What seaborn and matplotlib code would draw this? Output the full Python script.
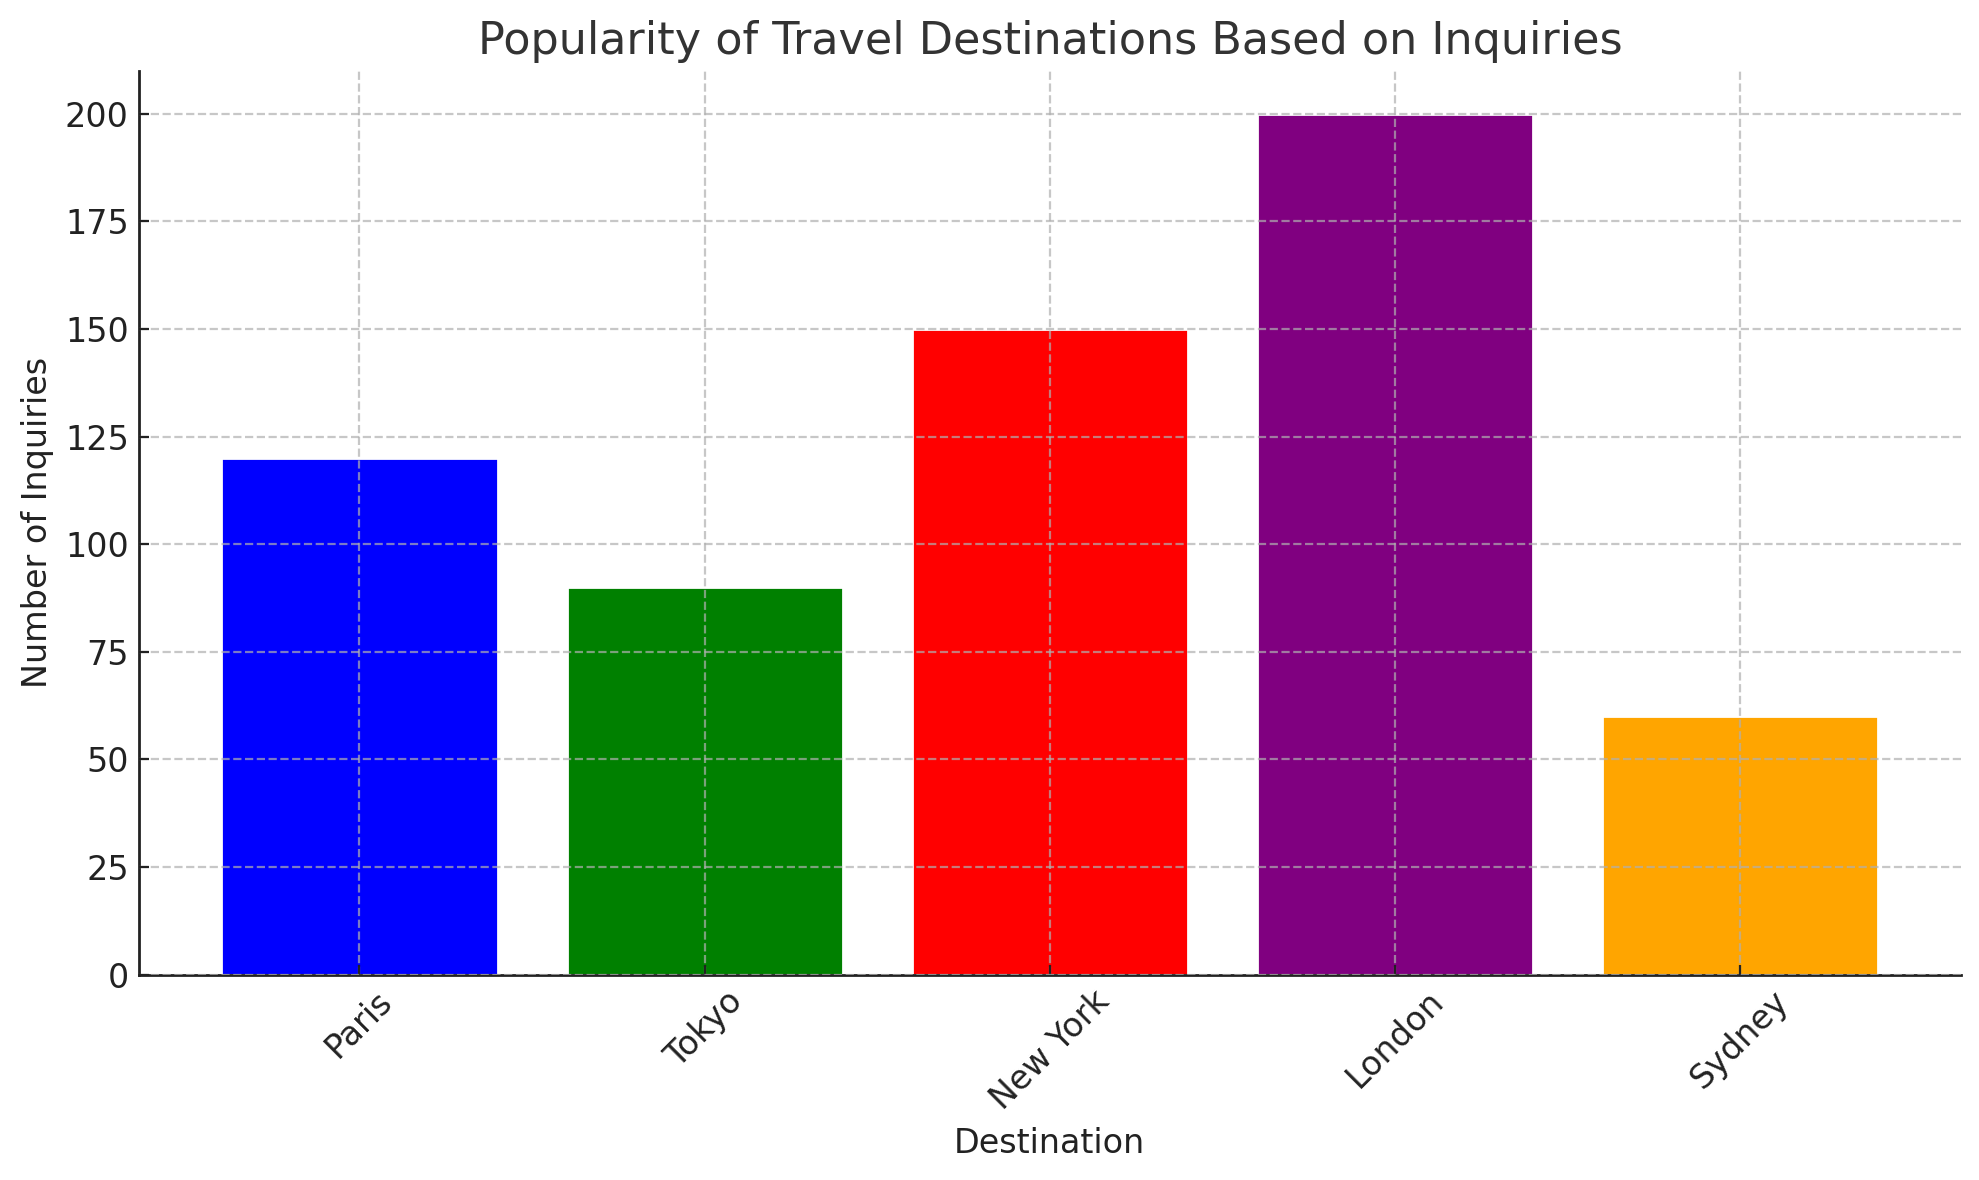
import matplotlib
matplotlib.use("Agg")
import matplotlib.pyplot as plt
import seaborn as sns
import pandas as pd

destinations = ["Paris", "Tokyo", "New York", "London", "Sydney"]
inquiries = [120, 90, 150, 200, 60]
bar_colors = ["blue", "green", "red", "purple", "orange"]

df = pd.DataFrame({"Destination": destinations, "Inquiries": inquiries})

sns.set_style("white")
plt.rcParams['font.family'] = ['DejaVu Sans']

fig, ax = plt.subplots(figsize=(9.895, 5.9), dpi=200)
fig.subplots_adjust(left=0.070, right=0.991, top=0.940, bottom=0.174)
sns.barplot(data=df, x="Destination", y="Inquiries", hue="Destination",
            palette=bar_colors, saturation=1, legend=False, width=0.8, ax=ax)

ax.set_title("Popularity of Travel Destinations Based on Inquiries", fontsize=16, color="#333333")
ax.set_xlabel("Destination", fontsize=12, color="#222222")
ax.set_ylabel("Number of Inquiries", fontsize=12, color="#222222")
ax.set_xlim(-0.64, 4.64)
ax.set_yticks([0, 25, 50, 75, 100, 125, 150, 175, 200])
ax.set_ylim(0, 210)
ax.tick_params(axis="x", rotation=45, labelsize=12, length=3.5, color="#222222",
               direction="in", bottom=True, labelcolor="#222222")
ax.tick_params(axis="y", labelsize=12, length=3.5, color="#222222",
               direction="in", left=True, labelcolor="#222222")
ax.grid(True, linestyle="--", color="#b0b0b0", alpha=0.7, linewidth=0.8)
ax.set_axisbelow(False)
sns.despine(ax=ax)
for s in ["left", "bottom"]:
    ax.spines[s].set_color("#222222")
    ax.spines[s].set_linewidth(1.0)

fig.savefig("out.png", dpi=200)
